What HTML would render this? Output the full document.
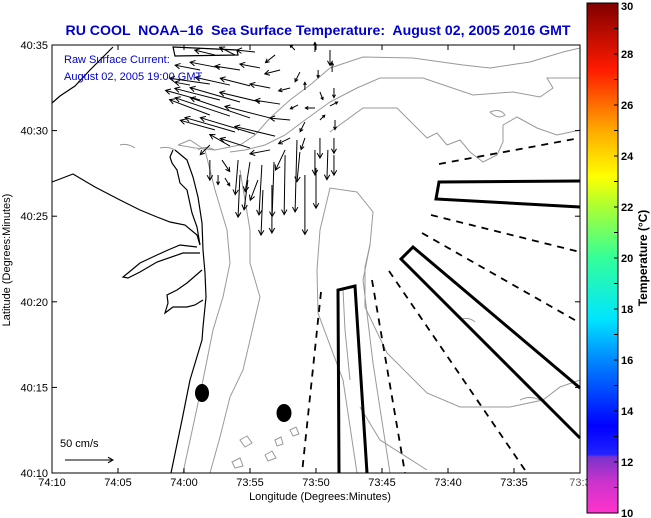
<!DOCTYPE html>
<html><head><meta charset="utf-8">
<style>
html,body{margin:0;padding:0;background:#fff;}
svg{display:block;font-family:"Liberation Sans",Arial,sans-serif;}
</style></head>
<body>
<svg id="chart" width="651" height="518" viewBox="0 0 651 518" xmlns="http://www.w3.org/2000/svg">
<defs>
<linearGradient id="jet" x1="0" y1="1" x2="0" y2="0">
<stop offset="0" stop-color="#ff33cc"/>
<stop offset="0.06" stop-color="#cc33cc"/>
<stop offset="0.11" stop-color="#7a33cc"/>
<stop offset="0.115" stop-color="#2222ff"/>
<stop offset="0.17" stop-color="#0000ff"/>
<stop offset="0.3" stop-color="#0088ff"/>
<stop offset="0.38" stop-color="#00e5ff"/>
<stop offset="0.5" stop-color="#33ff99"/>
<stop offset="0.6" stop-color="#aaff33"/>
<stop offset="0.66" stop-color="#ffff00"/>
<stop offset="0.75" stop-color="#ffaa00"/>
<stop offset="0.87" stop-color="#ff1a00"/>
<stop offset="1" stop-color="#800000"/>
</linearGradient>
</defs>
<text x="318" y="35" text-anchor="middle" font-size="13.5" font-weight="bold" fill="#0000cc" textLength="505" lengthAdjust="spacingAndGlyphs" xml:space="preserve">RU COOL  NOAA–16  Sea Surface Temperature:  August 02, 2005 2016 GMT</text>

<g id="map">
<g fill="none" stroke="#999" stroke-width="1">
<path d="M330,68 L363,57 L413,58 L463,65 L490,68 L530,62 L563,52 L580,48"/>
<path d="M330,102 L357,88 L380,78 L423,78 L473,95 L513,92 L540,97 L553,88 L547,78 L580,78"/>
<path d="M330,132 L363,108 L397,108 L427,138 L437,133 L447,145 L460,140 L470,152 L483,162 L497,155 L503,142 L503,125 L517,117 L537,128 L557,135 L580,130"/>
<path d="M330,68 L310,85 L290,100 L270,118 L255,135 L240,145 L215,150 L195,148 L178,145"/>
<path d="M330,102 L305,120 L285,135 L265,145 L245,150 L230,152"/>
<path d="M183,473 L203,380 L213,330 L223,297 L230,263 L227,230 L215,190 L205,150 L190,140 L178,145"/>
<path d="M210,473 L220,437 L230,397 L243,370 L250,340 L260,297 L250,263 L250,230 L245,200 L240,170"/>
<path d="M357,473 L343,380 L318,313 L317,270 L320,230 L330,188 L357,192 L373,212 L370,245 L365,267 L365,307 L387,353 L427,393 L460,407 L510,407 L543,400 L560,387 L580,380"/>
<path d="M360,407 L380,440 L427,470"/>
<path d="M390,473 L373,363 L363,280 L370,245"/>
<path d="M343,290 L345,330 L350,380"/>
<path d="M240,440 L247,436 L252,443 L245,447 Z M265,455 L272,451 L276,458 L268,461 Z M290,430 L296,427 L299,434 L293,436 Z M232,462 L240,458 L243,466 L235,468 Z M275,440 L281,437 L283,444 L277,446 Z"/>
<path d="M198,150 Q205,145 215,150 M160,148 Q168,146 175,150 M120,145 Q128,143 135,148"/>
<path d="M490,112 Q500,108 505,115 Q498,120 490,112 M520,400 Q530,395 540,400 M460,320 Q468,316 475,322"/>
</g>
<g fill="none" stroke="#000" stroke-width="1.2">
<path d="M52,103 L60,96 L75,86 L90,70 L100,60 L113,47"/>
<path d="M173,47 L237,50 L238,55 L175,56 Z"/>
<path d="M52,182 L60,179 L73,174 L95,187 L120,200 L140,210 L157,217 L170,222 L185,225 L197,235 L200,245"/>
<path d="M173,150 L170,157 L172,163 L177,170 L180,183 L187,190 L192,213 L197,227 L200,245"/>
<path d="M175,150 L187,160 L193,177 L198,197 L202,223 L203,250 L205,273 L206,297 L203,327 L202,340 L190,380 L182,420 L171,473"/>
<path d="M197,247 L180,245 L168,250 L157,255 L140,263 L128,273 L123,277 L128,278 L140,272 L157,262 L183,253 L200,253"/>
<path d="M202,270 L187,283 L177,290 L167,295 L168,303 L165,313 L173,307 L187,307 L195,305 L203,300"/>
</g>
<g fill="none" stroke="#000" stroke-width="3" stroke-linejoin="miter">
<path d="M339,473 L338,290 L355,286 L367,473"/>
<path d="M580,181 L439,182 L436,199 L580,207"/>
<path d="M580,388 L413,247 L401,259 L580,438"/>
</g>
<g fill="none" stroke="#000" stroke-width="1.8" stroke-dasharray="7,6">
<path d="M439,164 L580,138"/>
<path d="M431,215 L580,252"/>
<path d="M422,233 L580,323"/>
<path d="M389,271 L527,473"/>
<path d="M372,280 L405,473"/>
<path d="M321,292 L302,473"/>
</g>
<ellipse cx="202" cy="393" rx="7" ry="9" fill="#000"/>
<ellipse cx="284" cy="413" rx="7.5" ry="9" fill="#000"/>
</g>

<g id="arrows"></g>

<rect x="52" y="45" width="528" height="428" fill="none" stroke="#000" stroke-width="1"/>
<g id="axes"></g>

<text x="64" y="63" font-size="11" fill="#0000cc">Raw Surface Current:</text>
<text x="64" y="80" font-size="11" fill="#0000cc">August 02, 2005 19:00 GMT</text>
<text x="60" y="447" font-size="11" fill="#000">50 cm/s</text>
<g id="scale"></g>

<text x="320" y="500" text-anchor="middle" font-size="11">Longitude (Degrees:Minutes)</text>
<text transform="translate(10,260) rotate(-90)" text-anchor="middle" font-size="11">Latitude (Degrees:Minutes)</text>

<rect x="587" y="3" width="31" height="510" fill="url(#jet)" stroke="#000" stroke-width="1"/>
<g id="cbticks"></g>
<text transform="translate(647,258) rotate(-90)" text-anchor="middle" font-size="12" font-weight="bold">Temperature (°C)</text>
</svg>
<script>
// Axis tick data (minutes west of 73°, minutes north of 40°)
const xTickVals = [70, 65, 60, 55, 50, 45, 40, 35, 30];
const xTickLabels = ["74:10","74:05","74:00","73:55","73:50","73:45","73:40","73:35","73:3"];
const yTickVals = [10, 15, 20, 25, 30, 35];
const yTickLabels = ["40:10","40:15","40:20","40:25","40:30","40:35"];
const cbTickVals = [10,12,14,16,18,20,22,24,26,28,30];

// Current vectors: position (lon minutes W of 73°, lat minutes N of 40°), u/v in cm/s
const arrowLon = [57.66,56.14,54.62,53.10,51.60,50.08,48.94,58.78,57.28,55.76,54.24,52.72,51.22,49.84,48.78,59.54,58.04,56.52,55.00,53.48,51.96,50.84,49.70,48.64,58.78,57.28,55.76,54.24,52.72,51.36,50.08,48.94,58.04,56.52,55.00,53.48,51.96,50.84,49.70,48.56,57.66,56.14,54.62,53.10,51.96,50.84,49.70,48.64,58.04,56.52,55.00,53.48,52.34,51.22,50.08,49.10,48.64,58.04,57.12,55.90,55.00,54.10,53.18,52.34,51.44,50.84,50.00,57.42,56.90,55.76,55.16,54.40,54.02,53.34];
const arrowLat = [34.42,34.42,34.59,34.42,34.71,34.59,34.71,33.54,33.66,33.54,33.66,33.54,33.42,33.54,33.42,32.66,32.72,32.66,32.61,32.49,32.49,32.37,32.26,32.49,31.79,31.79,31.67,31.67,31.55,31.50,31.32,31.44,30.91,30.85,30.74,30.74,30.62,30.50,30.62,30.62,30.04,29.92,29.80,29.68,29.57,29.57,29.57,29.57,29.16,29.10,28.98,28.87,28.87,28.75,28.87,28.87,28.57,28.28,28.28,28.28,28.17,27.99,28.17,28.57,29.45,27.41,27.82,27.41,27.23,27.41,27.11,27.11,26.53,26.82];
const arrowU = [-21,-16,-19,-10,-5,0,0,-26,-31,-26,-21,-16,-5,0,0,-16,-42,-36,-31,-21,-12,0,3,0,-36,-47,-52,-42,-26,-8,-10,8,-42,-57,-62,-47,-21,-5,5,0,-36,-52,-57,-42,-12,-4,0,0,-10,-21,-31,-21,-10,-3,0,-1,0,0,8,-3,-5,-3,-2,-1,-2,0,0,0,5,-2,-4,-8,-2,0];
const arrowV = [5,8,2,-8,5,10,-16,5,6,4,4,-4,-10,-8,10,3,6,8,8,4,-3,8,-8,-10,10,12,15,10,4,-4,0,4,16,19,21,12,2,-10,5,-10,10,15,17,10,-6,-12,-21,-16,-10,12,10,-4,-21,-31,-26,-31,-21,-21,-12,-36,-31,-52,-57,-62,-75,-62,-42,-10,-8,-44,-31,-21,-47,-50];
const scaleSpeed = 50;

const NS = "http://www.w3.org/2000/svg";
const X0 = 52, X1 = 580, Y0 = 473, Y1 = 45;
function xScale(m){ return X0 + (70 - m) / 40 * (X1 - X0); }
function yScale(m){ return Y0 - (m - 10) / 25 * (Y0 - Y1); }
const pxPerCm = 0.96;
function cbScale(t){ return 513 - (t - 10) / 20 * 510; }

function mk(tag, attrs, parent){
  const e = document.createElementNS(NS, tag);
  for (const k in attrs) e.setAttribute(k, attrs[k]);
  parent.appendChild(e);
  return e;
}
function drawArrow(parent, x, y, u, v, sw){
  const dx = u * pxPerCm, dy = -v * pxPerCm;
  const x2 = x + dx, y2 = y + dy;
  const len = Math.hypot(dx, dy) || 1;
  const ux = dx / len, uy = dy / len;
  const h = Math.min(5, Math.max(2.5, len * 0.3));
  const d = `M${x},${y} L${x2},${y2} M${x2 - h*ux + h*0.55*uy},${y2 - h*uy - h*0.55*ux} L${x2},${y2} L${x2 - h*ux - h*0.55*uy},${y2 - h*uy + h*0.55*ux}`;
  return mk("path", {d: d, fill: "none", stroke: "#000", "stroke-width": sw}, parent);
}

const ag = document.getElementById("arrows");
for (let i = 0; i < arrowLon.length; i++) {
  const p = drawArrow(ag, xScale(arrowLon[i]), yScale(arrowLat[i]), arrowU[i], arrowV[i], 1);
  
  
}

const sg = document.getElementById("scale");
const sp = drawArrow(sg, 65, 460, scaleSpeed, 0, 1);



const axg = document.getElementById("axes");
xTickVals.forEach((v, i) => {
  const x = xScale(v);
  const t = mk("line", {x1: x, y1: Y0, x2: x, y2: Y0 - 5, stroke: "#000"}, axg);
  
  
  const t2 = mk("line", {x1: x, y1: Y1, x2: x, y2: Y1 + 5, stroke: "#000"}, axg);
  
  
  const lb = mk("text", {x: x, y: 486, "text-anchor": "middle", "font-size": "11", fill: i === xTickVals.length - 1 ? "#555" : "#000"}, axg);
  lb.textContent = xTickLabels[i];
  
  
});
yTickVals.forEach((v, i) => {
  const y = yScale(v);
  const t = mk("line", {x1: X0, y1: y, x2: X0 + 5, y2: y, stroke: "#000"}, axg);
  
  
  const t2 = mk("line", {x1: X1, y1: y, x2: X1 - 5, y2: y, stroke: "#000"}, axg);
  
  
  const lb = mk("text", {x: 48, y: y + 4, "text-anchor": "end", "font-size": "11"}, axg);
  lb.textContent = yTickLabels[i];
  
  
});

const cg = document.getElementById("cbticks");
for (let t = 10; t <= 30; t++) {
  const y = cbScale(t);
  const ln = mk("line", {x1: 618, y1: y, x2: 614, y2: y, stroke: "#000"}, cg);
  
  
}
cbTickVals.forEach(v => {
  const y = cbScale(v);
  const lb = mk("text", {x: 621, y: Math.min(Math.max(y + 4, 10), 517), "font-size": "11", "font-weight": "bold"}, cg);
  lb.textContent = v;
  
  
});
</script>
</body></html>
